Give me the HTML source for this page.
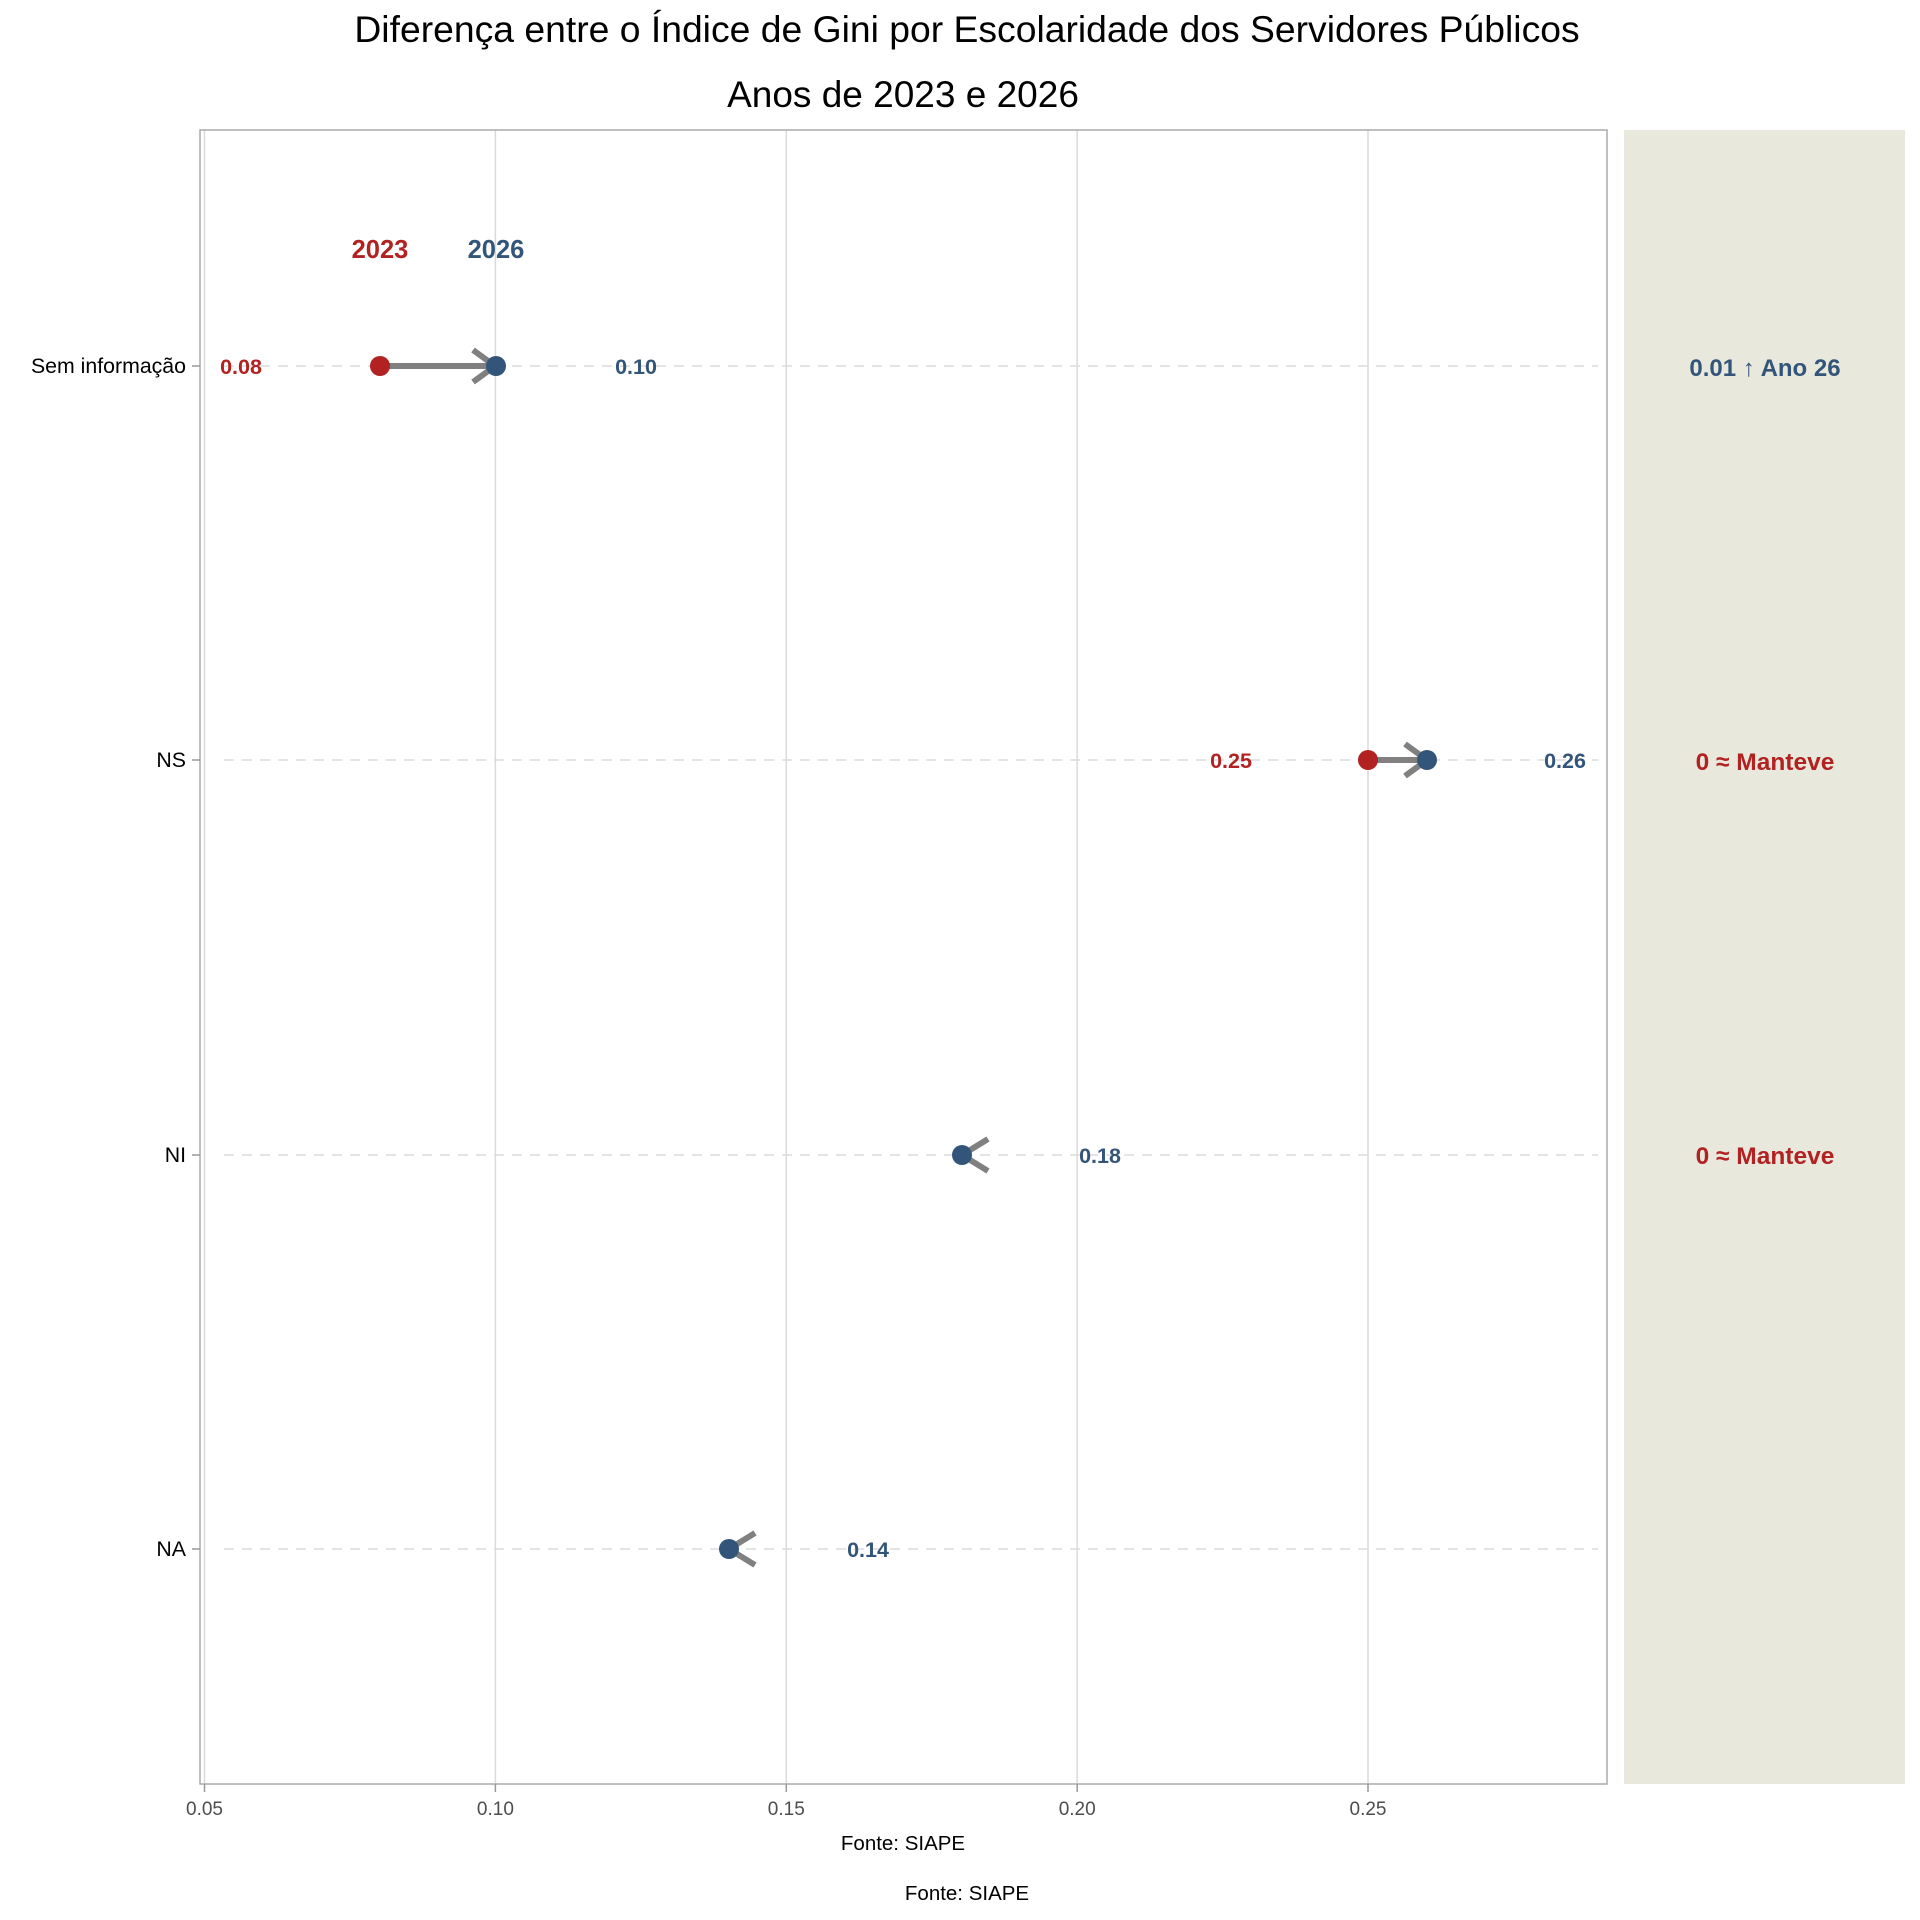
<!DOCTYPE html>
<html><head><meta charset="utf-8"><style>html,body{margin:0;padding:0;background:#fff}svg{display:block}</style></head>
<body>
<svg width="1920" height="1920" viewBox="0 0 1920 1920" xmlns="http://www.w3.org/2000/svg" font-family="Liberation Sans, Arial, sans-serif">
<rect width="1920" height="1920" fill="#fff"/>
<text x="967" y="42" font-size="37.3" text-anchor="middle" fill="#000">Diferença entre o Índice de Gini por Escolaridade dos Servidores Públicos</text>
<text x="903" y="107" font-size="37" text-anchor="middle" fill="#000">Anos de 2023 e 2026</text>
<rect x="1624" y="130" width="281" height="1654" fill="#e8e9dc"/>
<g stroke="#dadada" stroke-width="1.5">
<line x1="204.5" y1="130" x2="204.5" y2="1784"/>
<line x1="495.4" y1="130" x2="495.4" y2="1784"/>
<line x1="786.3" y1="130" x2="786.3" y2="1784"/>
<line x1="1077.2" y1="130" x2="1077.2" y2="1784"/>
<line x1="1368" y1="130" x2="1368" y2="1784"/>
</g>
<g stroke="#dcdcdc" stroke-width="1.5" stroke-dasharray="10,8">
<line x1="224" y1="366" x2="1598" y2="366"/>
<line x1="224" y1="760" x2="1598" y2="760"/>
<line x1="224" y1="1155" x2="1598" y2="1155"/>
<line x1="224" y1="1549" x2="1598" y2="1549"/>
</g>
<rect x="200" y="130" width="1407" height="1654" fill="none" stroke="#aaa" stroke-width="1.5"/>
<g stroke="#999" stroke-width="1.5">
<line x1="204.5" y1="1784" x2="204.5" y2="1792"/><line x1="495.4" y1="1784" x2="495.4" y2="1792"/><line x1="786.3" y1="1784" x2="786.3" y2="1792"/><line x1="1077.2" y1="1784" x2="1077.2" y2="1792"/><line x1="1368" y1="1784" x2="1368" y2="1792"/>
<line x1="192" y1="366" x2="200" y2="366"/><line x1="192" y1="760" x2="200" y2="760"/><line x1="192" y1="1155" x2="200" y2="1155"/><line x1="192" y1="1549" x2="200" y2="1549"/>
</g>
<g font-size="19" fill="#4d4d4d" text-anchor="middle">
<text x="204.5" y="1815">0.05</text><text x="495.4" y="1815">0.10</text><text x="786.3" y="1815">0.15</text><text x="1077.2" y="1815">0.20</text><text x="1368" y="1815">0.25</text>
</g>
<g font-size="21.3" fill="#000" text-anchor="end">
<text x="186" y="373">Sem informação</text><text x="186" y="767">NS</text><text x="186" y="1162">NI</text><text x="186" y="1556">NA</text>
</g>
<text x="903" y="1850" font-size="20.5" text-anchor="middle">Fonte: SIAPE</text>
<text x="967" y="1900" font-size="20.5" text-anchor="middle">Fonte: SIAPE</text>
<text x="380" y="258" font-size="25.5" font-weight="bold" fill="#b22222" text-anchor="middle">2023</text>
<text x="496" y="258" font-size="25.5" font-weight="bold" fill="#34557a" text-anchor="middle">2026</text>
<g stroke="#808080" stroke-width="6" fill="none">
<line x1="380" y1="366" x2="490" y2="366"/>
<polyline points="473,350 495,366 473,382"/>
<line x1="1368" y1="760" x2="1422" y2="760"/>
<polyline points="1405,744 1427,760 1405,776"/>
<polyline points="988,1139 962,1155 988,1171"/>
<polyline points="755,1533 729,1549 755,1565"/>
</g>
<circle cx="380" cy="366" r="10" fill="#b22222"/>
<circle cx="496" cy="366" r="10" fill="#34557a"/>
<circle cx="1368" cy="760" r="10" fill="#b22222"/>
<circle cx="1427" cy="760" r="10" fill="#34557a"/>
<circle cx="962" cy="1155" r="10" fill="#34557a"/>
<circle cx="729" cy="1549" r="10" fill="#34557a"/>
<g font-size="21.5" font-weight="bold" text-anchor="middle">
<text x="241" y="374" fill="#b22222">0.08</text>
<text x="636" y="374" fill="#34557a">0.10</text>
<text x="1231" y="768" fill="#b22222">0.25</text>
<text x="1565" y="768" fill="#34557a">0.26</text>
<text x="1100" y="1163" fill="#34557a">0.18</text>
<text x="868" y="1557" fill="#34557a">0.14</text>
<text x="1765" y="376" fill="#34557a" font-size="24">0.01 ↑ Ano 26</text>
<text x="1765" y="770" fill="#b22222" font-size="24.5">0 ≈ Manteve</text>
<text x="1765" y="1164" fill="#b22222" font-size="24.5">0 ≈ Manteve</text>
</g>
</svg>
</body></html>
